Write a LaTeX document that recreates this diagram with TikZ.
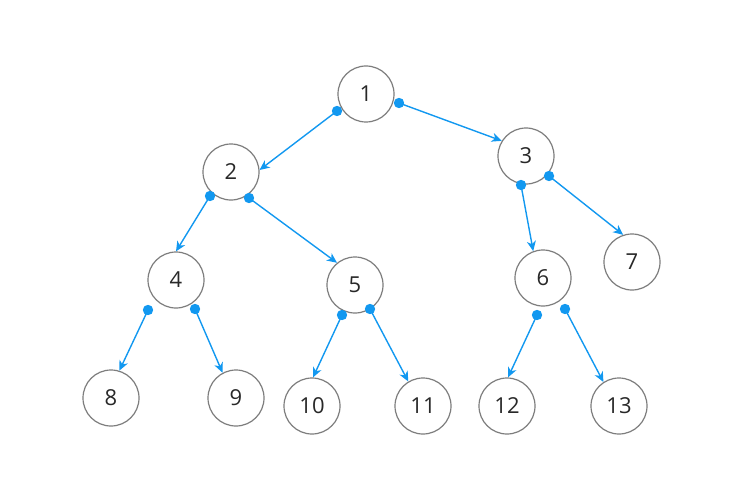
\documentclass[tikz,border=0pt]{standalone}
\usepackage{fontspec}
\setmainfont{Open Sans}
\usetikzlibrary{arrows.meta,calc}
\definecolor{edgeblue}{RGB}{18,152,240}
\definecolor{ringgray}{RGB}{125,125,125}
\definecolor{txt}{RGB}{40,40,40}
\begin{document}
\begin{tikzpicture}[x=1pt,y=-1pt,
  tn/.style={circle,draw=ringgray,line width=1.2pt,minimum size=56pt,inner sep=0pt,text=txt,font=\fontsize{22}{25}\selectfont},
  lnk/.style={draw=edgeblue,line width=1.4pt,-{Stealth[length=10pt,width=9pt,inset=3pt]}},
  dotc/.style={fill=edgeblue}]
\useasboundingbox (0,0) rectangle (752,500);
\node[tn] (n1) at (366,94) {1};
\node[tn] (n2) at (231,172) {2};
\node[tn] (n3) at (526,156) {3};
\node[tn] (n4) at (176,280) {4};
\node[tn] (n5) at (355,285) {5};
\node[tn] (n6) at (543,278) {6};
\node[tn] (n7) at (632,262) {7};
\node[tn] (n8) at (111,398) {8};
\node[tn] (n9) at (236,398) {9};
\node[tn] (n10) at (312,406) {10};
\node[tn] (n11) at (423,406) {11};
\node[tn] (n12) at (507,406) {12};
\node[tn] (n13) at (619,406) {13};
\coordinate (s12) at (337,111);
\coordinate (s13) at (399,103);
\coordinate (s24) at (210,196);
\coordinate (s25) at (249,198);
\coordinate (s36) at (521,185);
\coordinate (s37) at (549,176);
\coordinate (s48) at (148,310);
\coordinate (s49) at (195,309);
\coordinate (s510) at (342,315);
\coordinate (s511) at (370,309);
\coordinate (s612) at (537,315);
\coordinate (s613) at (565,309);
\foreach \s/\t/\a in {s12/n2/4,s13/n3/148,s24/n4/90,s25/n5/129,s36/n6/110,s37/n7/108,s48/n8/73,s49/n9/118,s510/n10/88,s511/n11/121,s612/n12/88,s613/n13/123}{
  \draw[lnk] (\s) -- (\t.\a);
  \fill[dotc] (\s) circle (5.2);
}
\end{tikzpicture}
\end{document}
